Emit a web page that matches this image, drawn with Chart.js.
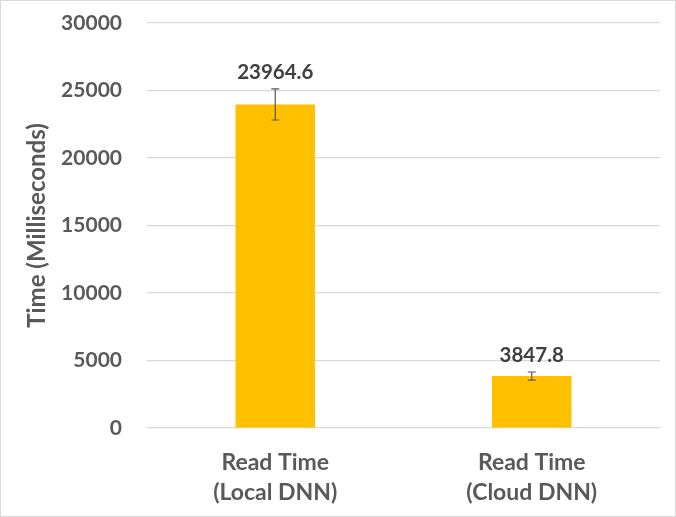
<!DOCTYPE html>
<html><head><meta charset="utf-8">
<script src="https://cdn.jsdelivr.net/npm/chart.js@4"></script>
<style>
html,body{margin:0;padding:0;background:#fff;}
#wrap{width:676px;height:517px;box-sizing:border-box;border:1px solid #d9d9d9;position:relative;}
canvas{display:block;}
</style></head>
<body>
<div id="wrap"><canvas id="c" width="674" height="515"></canvas></div>
<script>
const categories = [["Read Time","(Local DNN)"],["Read Time","(Cloud DNN)"]];
const readTimes = [23964.6, 3847.8];
const errorMargins = [1150, 300];
const yTicks = [0, 5000, 10000, 15000, 20000, 25000, 30000];

const FONT = "Lato, 'Liberation Sans', sans-serif";

const errorAndLabels = {
  id: 'errorAndLabels',
  afterDatasetsDraw(chart) {
    const ctx = chart.ctx;
    const meta = chart.getDatasetMeta(0);
    const ys = chart.scales.y;
    ctx.save();
    meta.data.forEach((bar, i) => {
      const v = readTimes[i], e = errorMargins[i];
      const x = bar.x;
      const yTop = ys.getPixelForValue(v + e);
      const yBot = ys.getPixelForValue(v - e);
      ctx.strokeStyle = '#595959';
      ctx.lineWidth = 1.2;
      ctx.beginPath();
      ctx.moveTo(x, yTop); ctx.lineTo(x, yBot);
      ctx.moveTo(x - 4, yTop); ctx.lineTo(x + 4, yTop);
      ctx.moveTo(x - 4, yBot); ctx.lineTo(x + 4, yBot);
      ctx.stroke();
      ctx.fillStyle = '#404040';
      ctx.font = "bold 20.5px " + FONT;
      ctx.textAlign = 'center';
      ctx.textBaseline = 'middle';
      ctx.fillText(v.toFixed(1), x, yTop - 17);
    });
    ctx.restore();
  }
};

new Chart(document.getElementById('c'), {
  type: 'bar',
  data: {
    labels: categories,
    datasets: [{
      data: readTimes,
      backgroundColor: '#ffc000',
      borderWidth: 0,
      barPercentage: 0.31,
      categoryPercentage: 1.0
    }]
  },
  options: {
    responsive: false,
    animation: false,
    devicePixelRatio: 1,
    layout: { padding: { left: 0, right: 15, top: 22, bottom: 0 } },
    plugins: { legend: { display: false }, tooltip: { enabled: false } },
    scales: {
      x: {
        grid: { display: false, drawTicks: false },
        border: { display: false },
        ticks: { color: '#595959', font: { family: FONT, size: 23, weight: 'bold', lineHeight: 1.3 }, padding: 20, maxRotation: 0 },
        afterFit(s) { s.height = 88; s.paddingLeft = 0; s.paddingRight = 0; }
      },
      y: {
        min: 0, max: 30000,
        afterBuildTicks(s) { s.ticks = yTicks.map(v => ({ value: v })); },
        grid: { color: '#d9d9d9', lineWidth: 1.2, drawTicks: false },
        border: { display: false },
        ticks: { color: '#595959', font: { family: FONT, size: 21, weight: 'bold' }, padding: 25, callback: v => String(v) },
        title: { display: true, text: 'Time (Milliseconds)', color: '#595959', font: { family: FONT, size: 24, weight: 'bold' }, padding: { top: 22, bottom: 0 } },
        afterFit(s) { s.width = 146; s.paddingTop = 0; s.paddingBottom = 0; }
      }
    }
  },
  plugins: [errorAndLabels]
});
</script>
</body></html>
